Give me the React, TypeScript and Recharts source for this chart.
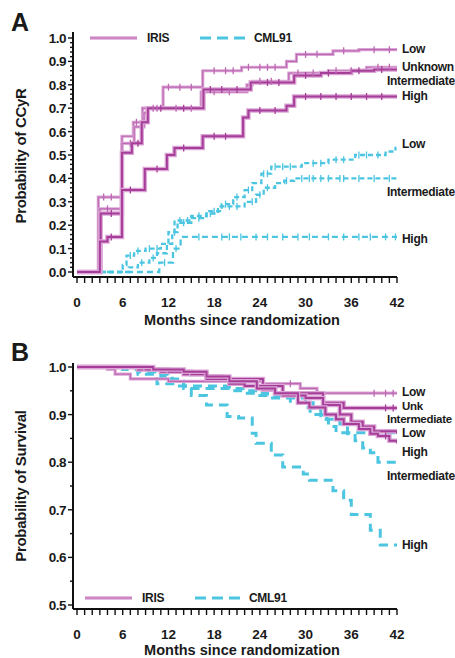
import React from "react";
import { LineChart, Line, XAxis, YAxis } from "recharts";

type Step = [number, number];

// ---- Panel A: probability of CCyR (months, probability) ----
const irisLowA: Step[] = [[0, 0], [2.8, 0.32], [5.9, 0.58], [7.4, 0.64], [8.6, 0.7], [11.3, 0.79], [16.5, 0.86], [21.6, 0.875], [27.5, 0.9], [28.8, 0.93], [33.6, 0.945], [37, 0.95], [42, 0.95]];
const irisUnkA: Step[] = [[0, 0], [3, 0.27], [5.9, 0.55], [7.5, 0.62], [8.8, 0.68], [9.2, 0.7], [16.3, 0.77], [22.3, 0.8], [23, 0.815], [27.8, 0.85], [33, 0.86], [38, 0.875], [42, 0.875]];
const irisIntA: Step[] = [[0, 0], [3.1, 0.25], [5.9, 0.51], [7.2, 0.55], [8.5, 0.64], [9.3, 0.7], [16.6, 0.78], [22.8, 0.81], [28.5, 0.84], [32, 0.85], [36, 0.86], [39, 0.865], [42, 0.865]];
const irisHighA: Step[] = [[0, 0], [3, 0.13], [4, 0.15], [5.9, 0.35], [8.9, 0.44], [11.8, 0.5], [12.8, 0.53], [16.5, 0.58], [21.8, 0.66], [22.5, 0.69], [27.5, 0.71], [28.5, 0.75], [42, 0.75]];
const cmlLowA: Step[] = [[0, 0], [6, 0.03], [6.5, 0.07], [7.5, 0.09], [9, 0.1], [11, 0.12], [12, 0.17], [12.8, 0.22], [15, 0.24], [17, 0.26], [19, 0.29], [20.5, 0.32], [22, 0.35], [23, 0.38], [24.2, 0.42], [25.5, 0.45], [29.5, 0.465], [33, 0.48], [36.5, 0.5], [40.5, 0.515], [41.8, 0.535]];
const cmlIntA: Step[] = [[0, 0], [6.8, 0.02], [8, 0.04], [9.5, 0.06], [10.5, 0.08], [11.8, 0.12], [12.5, 0.17], [13.2, 0.21], [15, 0.23], [17, 0.25], [18.5, 0.28], [22, 0.3], [23.5, 0.33], [24.5, 0.36], [26, 0.38], [27.2, 0.39], [28.5, 0.4], [42, 0.4]];
const cmlHighA: Step[] = [[0, 0], [10.8, 0.04], [12.6, 0.1], [13.6, 0.15], [42, 0.15]];

// censored observations (months)
const irisLowACens = [3.5, 4.5, 7.8, 10, 12, 13.5, 15, 18, 19.5, 20.5, 22.5, 24, 25, 26, 30, 31.5, 35, 39, 41];
const irisUnkACens = [4, 7, 10.5, 13, 15, 18, 20, 24, 25.5, 29, 31, 34, 36, 39.5, 41];
const irisIntACens = [4.5, 8, 11, 14, 17.5, 19, 21, 25, 26.5, 30, 33, 37, 40];
const irisHighACens = [4.5, 7, 10.5, 14, 18, 19.5, 24, 26, 30, 32, 34, 36, 38, 40];
const cmlLowACens = [7, 8, 9.5, 10.5, 13.5, 14.5, 16, 18, 19.5, 21, 22.5, 24.5, 25, 26, 27, 28, 31, 32, 34, 35, 37, 38, 39.5];
const cmlIntACens = [8.5, 10, 12.8, 14, 16, 17.5, 20, 21, 23, 24, 25, 27.5, 29.5, 30.5, 31, 32, 33, 34.5, 35, 37, 39, 41];
const cmlHighACens = [11.5, 13, 16, 19, 20, 21.5, 23.5, 25, 27, 29, 30.5, 33, 35, 37, 38.5, 40.5, 41.8];

// ---- Panel B: probability of survival ----
const irisLowB: Step[] = [[0, 1], [4, 0.995], [5, 0.985], [7, 0.975], [12, 0.97], [24.4, 0.965], [29.3, 0.955], [31.5, 0.945], [42, 0.945]];
const irisUnkB: Step[] = [[0, 1], [8, 0.995], [11, 0.99], [14, 0.985], [17, 0.98], [19, 0.975], [24.4, 0.952], [26, 0.945], [32.3, 0.925], [35, 0.914], [42, 0.914]];
const irisIntB: Step[] = [[0, 1], [9, 0.995], [12, 0.99], [15, 0.985], [17, 0.975], [20, 0.965], [22, 0.96], [27, 0.94], [30, 0.935], [32.3, 0.92], [34.5, 0.9], [36, 0.885], [37.5, 0.875], [39, 0.865], [42, 0.86]];
const irisHighB: Step[] = [[0, 1], [10, 0.995], [14, 0.99], [17, 0.98], [20, 0.97], [23.6, 0.955], [26, 0.945], [29, 0.925], [30.5, 0.915], [32.6, 0.9], [34, 0.89], [35, 0.88], [37, 0.87], [38.5, 0.86], [39.5, 0.855], [41, 0.845], [42, 0.84]];
const cmlLowB: Step[] = [[0, 1], [8, 0.99], [10.5, 0.985], [12, 0.975], [14, 0.96], [20, 0.95], [24, 0.94], [28, 0.935], [30, 0.925], [31, 0.91], [32, 0.89], [33, 0.875], [34, 0.862], [42, 0.86]];
const cmlIntB: Step[] = [[0, 1], [9, 0.99], [11, 0.98], [12.5, 0.97], [14, 0.955], [22, 0.945], [25, 0.935], [28, 0.925], [29.7, 0.915], [30.6, 0.9], [32.8, 0.89], [34.5, 0.88], [35.5, 0.86], [36.5, 0.845], [37.5, 0.83], [38.5, 0.82], [39.5, 0.8], [42, 0.795]];
const cmlHighB: Step[] = [[0, 1], [6, 0.995], [8, 0.985], [10.5, 0.965], [13, 0.96], [15, 0.94], [17, 0.92], [19.7, 0.896], [21.2, 0.893], [23, 0.861], [23.5, 0.84], [25.5, 0.815], [27, 0.79], [29.7, 0.775], [30.5, 0.762], [33.6, 0.74], [35, 0.72], [36, 0.69], [38.5, 0.657], [39.8, 0.626], [42, 0.626]];

const irisLowBCens = [28, 39, 40.5, 41.5];
const irisUnkBCens = [40.5, 41.5];
const irisHighBCens = [40.5];

const monthLabels = [0, 6, 12, 18, 24, 30, 36, 42];
const monthTicks = Array.from({ length: 43 }, (_, i) => i);
const ccyrTicks = Array.from({ length: 51 }, (_, i) => +(i * 0.02).toFixed(2));
const survTicks = [0.5, 0.55, 0.6, 0.65, 0.7, 0.75, 0.8, 0.85, 0.9, 0.95, 1.0];

const FONT = "'Liberation Sans', Arial, sans-serif";
const MAGENTA = "#a53d99";
const MAGENTA_HALO = "#dba6d5";
const MAGENTA_LIGHT = "#bd68b3";
const CYAN = "#4cc5e1";

function buildSeries(steps: Step[], cens: number[] = []) {
  const pts = steps.map(([m, v]) => ({ m, v, c: false }));
  cens.forEach((t) => {
    let v = steps[0][1];
    for (const [m, val] of steps) if (m <= t) v = val;
    pts.push({ m: t, v, c: true });
  });
  return pts.sort((a, b) => a.m - b.m);
}

const censorDot = (color: string) => (props: any) => {
  const { cx, cy, payload, index } = props;
  if (!payload || !payload.c || cx == null) return <g key={`d${index}`} />;
  return <line key={`d${index}`} x1={cx} x2={cx} y1={cy - 3.5} y2={cy + 3.5} stroke={color} strokeWidth={1.3} />;
};

function irisLines(id: string, data: any[], thick: boolean) {
  return [
    <Line key={id + "h"} data={data} dataKey="v" type="stepAfter" stroke={MAGENTA_HALO} strokeWidth={thick ? 4.5 : 3.2} dot={false} isAnimationActive={false} />,
    <Line key={id + "c"} data={data} dataKey="v" type="stepAfter" stroke={thick ? MAGENTA : MAGENTA_LIGHT} strokeWidth={thick ? 2 : 1.2} dot={censorDot(thick ? MAGENTA : MAGENTA_LIGHT)} activeDot={false} isAnimationActive={false} />,
  ];
}

function cmlLine(id: string, data: any[], width: number, dash: string) {
  return (
    <Line key={id} data={data} dataKey="v" type="stepAfter" stroke={CYAN} strokeWidth={width} strokeDasharray={dash} dot={censorDot(CYAN)} activeDot={false} isAnimationActive={false} />
  );
}

const XTick = ({ x, y, payload }: any) => (
  <g>
    <line x1={x} x2={x} y1={y} y2={y + 6} stroke="#111" strokeWidth={1.4} />
    {monthLabels.includes(payload.value) && (
      <text x={x} y={y + 30} textAnchor="middle" fontFamily={FONT} fontWeight={700} fontSize={13.5} fill="#1a1a1a">
        {payload.value}
      </text>
    )}
  </g>
);

const YTick = ({ x, y, payload }: any) => {
  const v = payload.value;
  const major = Math.abs(v * 10 - Math.round(v * 10)) < 1e-6;
  return (
    <g>
      <line x1={x - (major ? 5 : 3)} x2={x} y1={y} y2={y} stroke="#111" strokeWidth={1.4} />
      {major && (
        <text x={x - 7} y={y + 5} textAnchor="end" fontFamily={FONT} fontWeight={700} fontSize={13.5} fill="#1a1a1a" letterSpacing={-0.5}>
          {v.toFixed(1)}
        </text>
      )}
    </g>
  );
};

const Txt = ({ x, y, size = 12, children, rotate }: any) => (
  <div
    style={{
      position: "absolute",
      left: x,
      top: y,
      transform: rotate ? "translate(-50%, -50%) rotate(-90deg)" : "translateY(-50%)",
      fontFamily: FONT,
      fontWeight: 700,
      fontSize: size,
      lineHeight: 1,
      color: "#1a1a1a",
      whiteSpace: "nowrap",
      letterSpacing: -0.3,
    }}
  >
    {children}
  </div>
);

const LegendKey = ({ x, y }: { x: number; y: number }) => (
  <>
    <svg style={{ position: "absolute", left: 0, top: 0 }} width={455} height={658}>
      <line x1={x} x2={x + 47} y1={y} y2={y} stroke={MAGENTA_HALO} strokeWidth={3.5} />
      <line x1={x} x2={x + 47} y1={y} y2={y} stroke={MAGENTA_LIGHT} strokeWidth={1.2} />
      <line x1={x + 110} x2={x + 155} y1={y} y2={y} stroke={CYAN} strokeWidth={3} strokeDasharray="11 6" />
    </svg>
    <Txt x={x + 57} y={y}>IRIS</Txt>
    <Txt x={x + 164} y={y}>CML91</Txt>
  </>
);

export default function App() {
  const a = {
    irisLow: buildSeries(irisLowA, irisLowACens),
    irisUnk: buildSeries(irisUnkA, irisUnkACens),
    irisInt: buildSeries(irisIntA, irisIntACens),
    irisHigh: buildSeries(irisHighA, irisHighACens),
    cmlLow: buildSeries(cmlLowA, cmlLowACens),
    cmlInt: buildSeries(cmlIntA, cmlIntACens),
    cmlHigh: buildSeries(cmlHighA, cmlHighACens),
  };
  const b = {
    irisLow: buildSeries(irisLowB, irisLowBCens),
    irisUnk: buildSeries(irisUnkB, irisUnkBCens),
    irisInt: buildSeries(irisIntB),
    irisHigh: buildSeries(irisHighB, irisHighBCens),
    cmlLow: buildSeries(cmlLowB),
    cmlInt: buildSeries(cmlIntB),
    cmlHigh: buildSeries(cmlHighB),
  };

  const xAxis = (
    <XAxis dataKey="m" type="number" domain={[-0.525, 42]} allowDataOverflow ticks={monthTicks} interval={0}
      tickSize={0} tickMargin={0} tick={<XTick />} height={30} axisLine={{ stroke: "#111", strokeWidth: 2 }} />
  );

  return (
    <div style={{ position: "absolute", left: 0, top: 0, width: 455, height: 658, background: "#fff", overflow: "hidden" }}>
      <div style={{ position: "absolute", left: 0, top: 0 }}>
        <LineChart width={455} height={330} margin={{ top: 32, right: 58, bottom: 23, left: 33 }}>
          {xAxis}
          <YAxis type="number" domain={[-0.0214, 1.0256]} allowDataOverflow ticks={ccyrTicks} interval={0} width={40}
            tickSize={0} tickMargin={0} tick={<YTick />} axisLine={{ stroke: "#111", strokeWidth: 2 }} />
          {cmlLine("cl", a.cmlLow, 2.3, "5 3")}
          {cmlLine("ci", a.cmlInt, 2.3, "5 3")}
          {cmlLine("ch", a.cmlHigh, 2.3, "6 4")}
          {irisLines("il", a.irisLow, false)}
          {irisLines("iu", a.irisUnk, false)}
          {irisLines("ii", a.irisInt, true)}
          {irisLines("ih", a.irisHigh, true)}
        </LineChart>
      </div>
      <div style={{ position: "absolute", left: 0, top: 330 }}>
        <LineChart width={455} height={328} margin={{ top: 33, right: 58, bottom: 19, left: 33 }}>
          {xAxis}
          <YAxis type="number" domain={[0.4916, 1.0084]} allowDataOverflow ticks={survTicks} interval={0} width={40}
            tickSize={0} tickMargin={0} tick={<YTick />} axisLine={{ stroke: "#111", strokeWidth: 2 }} />
          {cmlLine("cl", b.cmlLow, 3, "9 6")}
          {cmlLine("ci", b.cmlInt, 3, "9 6")}
          {cmlLine("ch", b.cmlHigh, 3, "9 6")}
          {irisLines("il", b.irisLow, false)}
          {irisLines("iu", b.irisUnk, true)}
          {irisLines("ii", b.irisInt, true)}
          {irisLines("ih", b.irisHigh, true)}
        </LineChart>
      </div>

      {/* panel letters and axis titles */}
      <Txt x={11} y={22} size={25}>A</Txt>
      <Txt x={11} y={352} size={25}>B</Txt>
      <Txt x={20} y={156} size={15} rotate>Probability of CCyR</Txt>
      <Txt x={20} y={486} size={15} rotate>Probability of Survival</Txt>
      <div style={{ position: "absolute", left: 0, width: 484, top: 320, transform: "translateY(-50%)", textAlign: "center", fontFamily: FONT, fontWeight: 700, fontSize: 14.5, color: "#1a1a1a", lineHeight: 1 }}>
        Months since randomization
      </div>
      <div style={{ position: "absolute", left: 0, width: 484, top: 650, transform: "translateY(-50%)", textAlign: "center", fontFamily: FONT, fontWeight: 700, fontSize: 14.5, color: "#1a1a1a", lineHeight: 1 }}>
        Months since randomization
      </div>

      <LegendKey x={90} y={38} />
      <LegendKey x={85} y={598} />

      {/* risk group labels, panel A */}
      <Txt x={402} y={49}>Low</Txt>
      <Txt x={402} y={67}>Unknown</Txt>
      <Txt x={387} y={81}>Intermediate</Txt>
      <Txt x={402} y={96}>High</Txt>
      <Txt x={402} y={144}>Low</Txt>
      <Txt x={387} y={192}>Intermediate</Txt>
      <Txt x={402} y={239}>High</Txt>

      {/* risk group labels, panel B */}
      <Txt x={402} y={392}>Low</Txt>
      <Txt x={402} y={407} size={11.5}>Unk</Txt>
      <Txt x={387} y={419.5} size={11.5}>Intermediate</Txt>
      <Txt x={402} y={433}>Low</Txt>
      <Txt x={402} y={452}>High</Txt>
      <Txt x={387} y={476}>Intermediate</Txt>
      <Txt x={402} y={545}>High</Txt>
    </div>
  );
}
